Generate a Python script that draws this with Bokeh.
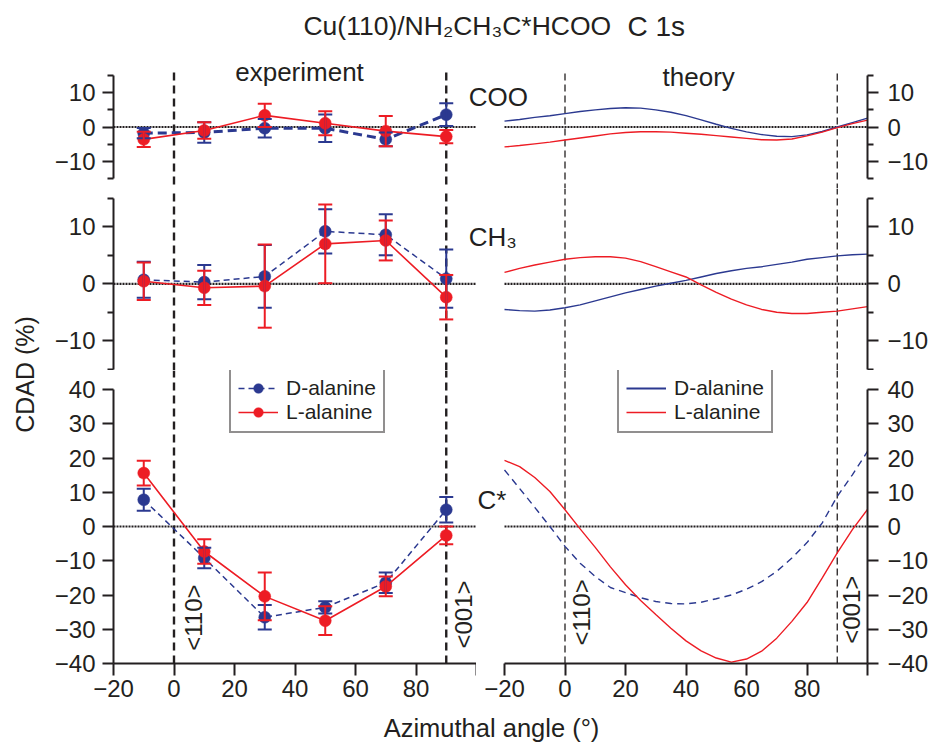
import numpy as np
from bokeh.plotting import figure
from bokeh.models import (Range1d, LinearAxis, FixedTicker, CustomJSTickFormatter, Whisker,
                          TeeHead, ColumnDataSource, Legend, LegendItem)
from bokeh.layouts import row, column
from bokeh.embed import file_html
from bokeh.resources import INLINE
from bokeh.core.properties import value

# ---------------- data ----------------
angles_exp = [-10, 10, 30, 50, 70, 90]
coo_D = [-1.8, -1.6, -0.35, -0.35, -3.6, 3.6]
coo_D_err = [1.5, 3.0, 2.7, 4.0, 2.0, 3.3]
coo_L = [-3.6, -1.0, 3.4, 1.1, -1.2, -2.8]
coo_L_err = [2.2, 2.4, 3.4, 3.5, 4.4, 1.9]
ch3_D = [0.7, 0.3, 1.3, 9.2, 8.6, 0.9]
ch3_D_err = [3.15, 3.0, 5.5, 3.9, 3.6, 5.1]
ch3_L = [0.45, -0.7, -0.4, 7.0, 7.6, -2.35]
ch3_L_err = [3.3, 3.0, 7.3, 6.9, 3.5, 3.9]
cs_D = [7.8, -9.2, -26.5, -23.6, -16.4, 4.9]
cs_D_err = [3.2, 3.0, 3.6, 1.8, 3.0, 3.7]
cs_L = [15.6, -7.3, -20.4, -27.5, -17.5, -2.6]
cs_L_err = [3.6, 3.6, 7.0, 4.2, 2.9, 2.6]

angles_th = [-20, -15, -10, -5, 0, 5, 10, 15, 20, 25, 30, 35, 40, 45, 50,
             55, 60, 65, 70, 75, 80, 85, 90, 95, 100]
coo_D_th = [1.7, 2.2, 2.8, 3.3, 3.9, 4.5, 5.0, 5.4, 5.6, 5.5, 5.0, 4.3, 3.3, 2.1, 0.8,
            -0.4, -1.4, -2.2, -2.7, -2.8, -2.3, -1.3, 0.0, 1.3, 2.6]
coo_L_th = [-5.8, -5.4, -4.9, -4.4, -3.8, -3.2, -2.6, -2.0, -1.6, -1.4, -1.4, -1.5, -1.8, -2.1, -2.5,
            -2.9, -3.3, -3.7, -3.8, -3.5, -2.6, -1.5, -0.2, 1.0, 2.0]
ch3_D_th = [-4.5, -4.7, -4.8, -4.6, -4.2, -3.7, -3.0, -2.3, -1.6, -1.0, -0.4, 0.1, 0.6, 1.2, 1.8,
            2.3, 2.7, 3.0, 3.4, 3.8, 4.3, 4.6, 4.9, 5.1, 5.2]
ch3_L_th = [2.0, 2.7, 3.3, 3.8, 4.3, 4.6, 4.75, 4.75, 4.5, 3.9, 3.0, 2.1, 1.2, -0.2, -1.5,
            -2.7, -3.7, -4.5, -5.0, -5.2, -5.2, -5.0, -4.8, -4.4, -4.0]
cs_D_th = [16.5, 11.1, 5.6, 0.0, -5.8, -10.7, -14.6, -17.8, -19.3, -20.8, -21.9, -22.5, -22.6, -22.1, -21.1,
           -20.0, -18.3, -16.1, -13.1, -9.2, -4.7, 1.0, 8.8, 15.1, 21.9]
cs_L_th = [19.3, 17.5, 14.3, 10.2, 4.9, -0.7, -6.1, -11.8, -17.0, -21.6, -25.7, -29.7, -33.4, -36.3, -38.4,
           -39.6, -38.7, -36.4, -32.6, -27.7, -22.2, -15.1, -7.7, -0.9, 5.0]

crystal_dirs = [0, 90]
dir_labels = ["<110>", "<001>"]
angle_limits = [-20, 100]
x_ticks = [-20, 0, 20, 40, 60, 80, 100]
small_ticks = [-10, 0, 10]
small_minor = [-15, -5, 5, 15]
big_ticks = [-40, -30, -20, -10, 0, 10, 20, 30, 40]

# ---------------- style ----------------
FONT = "Liberation Sans"
INK = "#231f20"
BLUE = "#2b3990"
RED = "#ed1c24"
TICK_FS = "24px"

# pixel geometry of the panels (layout only)
LEFT_END = -20 + 754 / 3.025
RIGHT_START = 100 - 754 / 3.025
R3_RIGHT_START = -20 - 28 / 3.025
Y1 = (-17.91, 36.85)
Y2 = (-15.21, 16.72)
Y3 = (-40, 45.55)

fmt_y = CustomJSTickFormatter(code="return tick < 0 ? '\u2212' + Math.abs(tick) : String(tick);")
fmt_x = CustomJSTickFormatter(code="if (tick == 100) return ''; return tick < 0 ? '\u2212' + Math.abs(tick) : String(tick);")


def style_axis(ax, ticks, minor, bounds, fmt, tick_len=11, standoff=6):
    ax.ticker = FixedTicker(ticks=ticks, minor_ticks=minor)
    ax.formatter = fmt
    ax.bounds = bounds
    ax.major_tick_out = tick_len
    ax.major_tick_in = 0
    ax.minor_tick_out = 6
    ax.minor_tick_in = 0
    for k in ("axis_line", "major_tick_line", "minor_tick_line"):
        setattr(ax, k + "_width", 2)
        setattr(ax, k + "_color", INK)
    ax.major_label_text_font = FONT
    ax.major_label_text_font_size = TICK_FS
    ax.major_label_text_color = INK
    ax.major_label_standoff = standoff


def base_fig(width, height, xr, yr, mbl, mbr, mbb):
    p = figure(width=width, height=height, x_range=xr, y_range=yr,
               x_axis_location=None, y_axis_location=None,
               toolbar_location=None, output_backend="svg",
               min_border_left=mbl, min_border_right=mbr,
               min_border_top=0, min_border_bottom=mbb)
    p.outline_line_color = None
    p.grid.visible = False
    p.background_fill_color = "white"
    return p


def add_text(p, x, y, txt, size="26px", angle=0.0, align="left", baseline="middle", **kw):
    p.text(x=[x], y=[y], text=[txt], angle=angle, text_align=align, text_baseline=baseline,
           text_font=value(FONT), text_font_size=size, text_color=INK, **kw)


def experiment(p, yD, eD, yL, eL, blue_w, blue_dash):
    rs = {}
    for key, ys, es, col, w, dash in (("D", yD, eD, BLUE, blue_w, blue_dash),
                                      ("L", yL, eL, RED, 1.6, "solid")):
        src = ColumnDataSource(dict(x=angles_exp, y=ys,
                                    up=[a + b for a, b in zip(ys, es)],
                                    lo=[a - b for a, b in zip(ys, es)]))
        ln = p.line("x", "y", source=src, line_color=col, line_width=w, line_dash=dash)
        wh = Whisker(source=src, base="x", upper="up", lower="lo", line_color=col, line_width=2,
                     upper_head=TeeHead(size=14, line_color=col, line_width=2),
                     lower_head=TeeHead(size=14, line_color=col, line_width=2))
        wh.level = "glyph"
        p.add_layout(wh)
        sc = p.scatter("x", "y", source=src, marker="circle", size=12, fill_color=col,
                       line_color=col, line_width=0.5)
        rs[key] = (ln, sc)
    return rs


def zero_line(p, **kw):
    p.line(x=angle_limits, y=[0, 0], line_color=INK, line_width=2.2, line_dash="2 1", **kw)


def dir_lines(p, y0, y1, width, dash, **kw):
    p.segment(x0=crystal_dirs, y0=[y0] * 2, x1=crystal_dirs, y1=[y1] * 2,
              line_color=INK, line_width=width, line_dash=dash, **kw)


def y_axes(p, ticks, minor, bounds, sides):
    for side in sides:
        ax = LinearAxis()
        style_axis(ax, ticks, minor, bounds, fmt_y, standoff=9 if side == "right" else 7)
        p.add_layout(ax, side)


# ---------------- row 1 : COO ----------------
p1 = base_fig(887, 188, Range1d(-20, LEFT_END), Range1d(*Y1), 68, 65, 0)
p1.extra_x_ranges = {"th": Range1d(RIGHT_START, 100)}
y_axes(p1, small_ticks, small_minor, (-15, 15), ["left", "right"])
zero_line(p1)
zero_line(p1, x_range_name="th")
dir_lines(p1, 15.9, Y1[0], 2.4, "8 5")
dir_lines(p1, 15.6, Y1[0], 1.3, "7 4", x_range_name="th")
experiment(p1, coo_D, coo_D_err, coo_L, coo_L_err, 3.0, "9 5")
p1.line(angles_th, coo_D_th, line_color=BLUE, line_width=1.4, x_range_name="th")
p1.line(angles_th, coo_L_th, line_color=RED, line_width=1.4, x_range_name="th")
add_text(p1, 42.8, 29.33, "Cu(110)/NH\u2082CH\u2083C*HCOO", size="26.5px")
add_text(p1, 149.9, 29.33, "C 1s", size="28px")
add_text(p1, 41.5, 16.05, "experiment", size="26px", align="center")
add_text(p1, 44.2, 14.5, "theory", size="26px", align="center", x_range_name="th")
add_text(p1, 97.4, 8.77, "COO", size="26px")

# ---------------- row 2 : CH3 ----------------
p2 = base_fig(887, 182, Range1d(-20, LEFT_END), Range1d(*Y2), 68, 65, 0)
p2.extra_x_ranges = {"th": Range1d(RIGHT_START, 100)}
y_axes(p2, small_ticks, small_minor, (-15, 15), ["left", "right"])
zero_line(p2)
zero_line(p2, x_range_name="th")
dir_lines(p2, Y2[0], Y2[1], 2.4, "8 5")
dir_lines(p2, Y2[0], Y2[1], 1.3, "7 4", x_range_name="th")
experiment(p2, ch3_D, ch3_D_err, ch3_L, ch3_L_err, 1.5, "6 4")
p2.line(angles_th, ch3_D_th, line_color=BLUE, line_width=1.4, x_range_name="th")
p2.line(angles_th, ch3_L_th, line_color=RED, line_width=1.4, x_range_name="th")
add_text(p2, 97.4, 8.21, "CH\u2083", size="26px")

# ---------------- row 3 : C* ----------------
p3l = base_fig(431, 338, Range1d(-20, 100), Range1d(*Y3), 68, 0, 45)
p3r = base_fig(456, 338, Range1d(R3_RIGHT_START, 100), Range1d(*Y3), 0, 65, 45)
for p, side in ((p3l, "left"), (p3r, "right")):
    ay = LinearAxis()
    style_axis(ay, big_ticks, [], (-40, 40), fmt_y, standoff=9 if side == "right" else 7)
    p.add_layout(ay, side)
    ax = LinearAxis()
    style_axis(ax, x_ticks, [], (-20, 100), fmt_x, tick_len=12, standoff=4)
    p.add_layout(ax, "below")
    zero_line(p)

dir_lines(p3l, Y3[0], Y3[1], 2.4, "8 5")
dir_lines(p3r, Y3[0], Y3[1], 1.3, "7 4")
rs3 = experiment(p3l, cs_D, cs_D_err, cs_L, cs_L_err, 1.5, "6 4")
thD = p3r.line(angles_th, cs_D_th, line_color=BLUE, line_width=1.4, line_dash="7 5")
thL = p3r.line(angles_th, cs_L_th, line_color=RED, line_width=1.4)
# legend key for the theory D-alanine curve (solid, as in the legend of the original)
thD_key = p3r.line(x=[np.nan], y=[np.nan], line_color=BLUE, line_width=2)

add_text(p3l, 6.45, -26.6, dir_labels[0], size="24px", angle=np.pi / 2, align="center")
add_text(p3l, 95.6, -25.7, dir_labels[1], size="24px", angle=np.pi / 2, align="center")
add_text(p3r, 5.45, -25.1, dir_labels[0], size="24px", angle=np.pi / 2, align="center")
add_text(p3r, 94.7, -24.3, dir_labels[1], size="24px", angle=np.pi / 2, align="center")
add_text(p3r, -28.93, 7.88, "C*", size="26px")


def make_legend(items, loc):
    lg = Legend(items=items, location=loc, border_line_color=INK, border_line_width=2,
                background_fill_color="white", background_fill_alpha=1.0,
                label_text_font=FONT, label_text_font_size="21px", label_text_color=INK,
                glyph_width=40, glyph_height=24, label_height=24, label_standoff=8,
                padding=7, spacing=0, margin=0)
    return lg


p3l.add_layout(make_legend([LegendItem(label="D-alanine", renderers=list(rs3["D"])),
                            LegendItem(label="L-alanine", renderers=list(rs3["L"]))], (116, 230)))
p3r.add_layout(make_legend([LegendItem(label="D-alanine", renderers=[thD_key]),
                            LegendItem(label="L-alanine", renderers=[thL])], (141, 230)))

# ---------------- outer labels ----------------
ylab = figure(width=45, height=708, x_range=Range1d(0, 45), y_range=Range1d(0, 708),
              x_axis_location=None, y_axis_location=None, toolbar_location=None,
              output_backend="svg", min_border=0)
ylab.outline_line_color = None
ylab.grid.visible = False
add_text(ylab, 24, 334, "CDAD (%)", size="25px", angle=np.pi / 2, align="center")

xlab = figure(width=932, height=36, x_range=Range1d(0, 932), y_range=Range1d(0, 36),
              x_axis_location=None, y_axis_location=None, toolbar_location=None,
              output_backend="svg", min_border=0)
xlab.outline_line_color = None
xlab.grid.visible = False
add_text(xlab, 491, 17, "Azimuthal angle (\u00b0)", size="25.5px", align="center")

layout = column(row(ylab, column(p1, p2, row(p3l, p3r))), xlab)

open("out.html", "w").write(file_html(layout, INLINE))
